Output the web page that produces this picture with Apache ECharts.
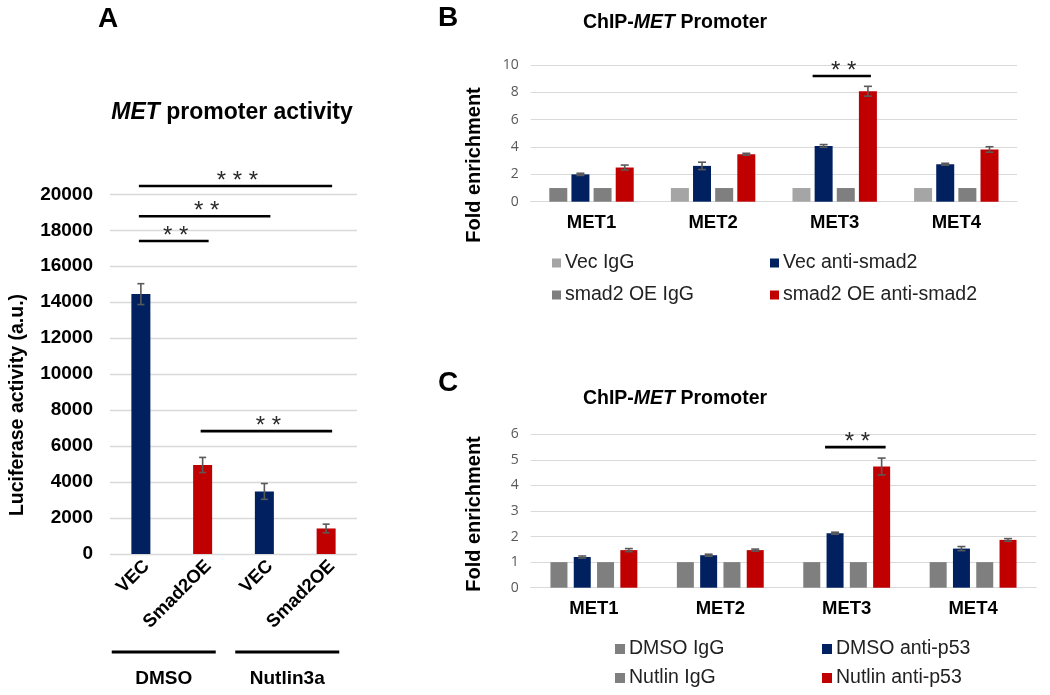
<!DOCTYPE html>
<html><head><meta charset="utf-8">
<script src="https://cdn.jsdelivr.net/npm/echarts@6/dist/echarts.min.js"></script>
<style>html,body{margin:0;padding:0;background:#fff}#c{width:1050px;height:695px}</style>
</head><body><div id="c"></div>
<script>
const FONT = "'Liberation Sans', Arial, sans-serif";
const TICKFONT = "'Open Sans', 'Noto Sans', sans-serif";

// ---------- Panel A data ----------
const aCategories = ['VEC', 'Smad2OE', 'VEC', 'Smad2OE'];
const aValues = [14450, 4950, 3480, 1420];
const aErrors = [580, 420, 440, 240];
const aSigFrom = [0, 0, 0, 1];
const aSigTo = [3, 2, 1, 3];
const aSigLevel = [20460, 18780, 17400, 6830];
const aSigLabel = ['* * *', '* *', '* *', '* *'];
const aGroupNames = ['DMSO', 'Nutlin3a'];
const aGroupFrom = [0, 2];
const aGroupTo = [1, 3];

// ---------- Panel B data ----------
const bCategories = ['MET1', 'MET2', 'MET3', 'MET4'];
const bNames = ['Vec IgG', 'Vec anti-smad2', 'smad2 OE IgG', 'smad2 OE anti-smad2'];
const bVecIgG = [1, 1, 1, 1];
const bVecAnti = [2.0, 2.62, 4.08, 2.74];
const bVecAntiErr = [0.08, 0.27, 0.1, 0.07];
const bOeIgG = [1, 1, 1, 1];
const bOeAnti = [2.5, 3.47, 8.08, 3.82];
const bOeAntiErr = [0.18, 0.07, 0.36, 0.2];
const bSigCat = [2];
const bSigLevel = [9.2];
const bSigLabel = ['* *'];

// ---------- Panel C data ----------
const cCategories = ['MET1', 'MET2', 'MET3', 'MET4'];
const cNames = ['DMSO IgG', 'DMSO anti-p53', 'Nutlin IgG', 'Nutlin anti-p53'];
const cDmsoIgG = [1, 1, 1, 1];
const cDmsoAnti = [1.2, 1.27, 2.13, 1.53];
const cDmsoAntiErr = [0.04, 0.04, 0.04, 0.08];
const cNutIgG = [1, 1, 1, 1];
const cNutAnti = [1.47, 1.47, 4.74, 1.87];
const cNutAntiErr = [0.06, 0.04, 0.33, 0.05];
const cSigCat = [2];
const cSigLevel = [5.5];
const cSigLabel = ['* *'];

const NAVY = '#002060', RED = '#c00000', GRAY = '#7f7f7f', LGRAY = '#a5a5a5';
const GRID = '#d9d9d9';

const B_W = 18, B_SP = 18 * 1.23;
const C_W = 17, C_SP = 17 * 1.37;

function errSeries(axis, values, errors, offset, capHalf) {
  return {
    type: 'custom', xAxisIndex: axis, yAxisIndex: axis, clip: false, silent: true, z: 6,
    data: values.map((v, i) => [i, v, errors[i]]),
    encode: { x: 0, y: 1 },
    renderItem(params, api) {
      const i = api.value(0), v = api.value(1), e = api.value(2);
      const t = api.coord([i, v + e]), b = api.coord([i, v - e]);
      const x = t[0] + offset;
      const st = { stroke: '#595959', lineWidth: 1.6 };
      return { type: 'group', children: [
        { type: 'line', shape: { x1: x, y1: t[1], x2: x, y2: b[1] }, style: st },
        { type: 'line', shape: { x1: x - capHalf, y1: t[1], x2: x + capHalf, y2: t[1] }, style: st },
        { type: 'line', shape: { x1: x - capHalf, y1: b[1], x2: x + capHalf, y2: b[1] }, style: st }
      ] };
    }
  };
}

function sigSeries(axis, data, labels, geom) {
  return {
    type: 'custom', xAxisIndex: axis, yAxisIndex: axis, clip: false, silent: true, z: 7,
    data: data,
    encode: { x: 0, y: 2 },
    renderItem(params, api) {
      const idx = params.dataIndex;
      const p1 = api.coord([api.value(0), api.value(2)]);
      const p2 = api.coord([api.value(1), api.value(2)]);
      const g = geom(p1[0], p2[0]);
      const y = p1[1];
      return { type: 'group', children: [
        { type: 'line', shape: { x1: g[0], y1: y, x2: g[1], y2: y }, style: { stroke: '#000', lineWidth: 2.6 } },
        { type: 'text', x: (g[0] + g[1]) / 2 + 2, y: y - 5,
          style: { text: labels[idx], fill: '#2a2a2a', font: '24px ' + FONT, align: 'center', verticalAlign: 'middle' } }
      ] };
    }
  };
}

const catAxis = (gi, data, extra) => Object.assign({
  type: 'category', gridIndex: gi, data: data,
  axisTick: { show: false },
  axisLine: { show: true, lineStyle: { color: GRID, width: 1 } },
  axisLabel: { color: '#000', fontWeight: 'bold', fontSize: 18.5, fontFamily: FONT, margin: 12 }
}, extra || {});

const valAxis = (gi, max, interval, extra) => Object.assign({
  type: 'value', gridIndex: gi, min: 0, max: max, interval: interval,
  axisLine: { show: false }, axisTick: { show: false },
  splitLine: { lineStyle: { color: GRID, width: 1 } },
  axisLabel: { color: '#595959', fontSize: 14, fontFamily: TICKFONT, margin: 12 }
}, extra || {});

const legendItem = (name, left, top, size) => ({
  data: [name], left: left, top: top, padding: 0, orient: 'horizontal',
  icon: 'rect', itemWidth: size, itemHeight: size, itemGap: 0, selectedMode: false,
  textStyle: { fontSize: 19.5, fontFamily: FONT, color: '#222', padding: [0, 0, 0, -1] }
});

const option = {
  animation: false,
  backgroundColor: '#fff',
  grid: [
    { left: 110, top: 194.3, width: 247, height: 359.7 },
    { left: 530.7, top: 65, width: 486.4, height: 136.7 },
    { left: 530.7, top: 434.3, width: 505.6, height: 153.4 }
  ],
  xAxis: [
    catAxis(0, aCategories, { axisLine: { show: false },
      axisLabel: { color: '#000', fontWeight: 'bold', fontSize: 18.5, fontFamily: FONT, rotate: 45, margin: 15,
        padding: [0, -8, 0, 0], interval: 0 } }),
    catAxis(1, bCategories),
    catAxis(2, cCategories)
  ],
  yAxis: [
    valAxis(0, 20000, 2000, { axisLabel: { color: '#000', fontWeight: 'bold', fontSize: 19, fontFamily: FONT, margin: 17,
        formatter: v => String(v) },
      splitLine: { lineStyle: { color: GRID, width: 1.3 } } }),
    valAxis(1, 10, 2),
    valAxis(2, 6, 1)
  ],
  legend: [
    legendItem(bNames[0], 552, 253, 9), legendItem(bNames[1], 770, 253, 9),
    legendItem(bNames[2], 552, 285, 9), legendItem(bNames[3], 770, 285, 9),
    legendItem(cNames[0], 615, 639, 10), legendItem(cNames[1], 822, 639, 10),
    legendItem(cNames[2], 615, 668, 10), legendItem(cNames[3], 822, 668, 10)
  ],
  series: [
    // Panel A
    { type: 'bar', xAxisIndex: 0, yAxisIndex: 0, barWidth: 19,
      data: aValues.map((v, i) => ({ value: v, itemStyle: { color: i % 2 === 0 ? NAVY : RED } })) },
    errSeries(0, aValues, aErrors, 0, 3.5),
    sigSeries(0, aSigFrom.map((f, i) => [f, aSigTo[i], aSigLevel[i]]), aSigLabel,
      (x1, x2) => [x1 - 2, x2 + 6]),
    { type: 'custom', xAxisIndex: 0, yAxisIndex: 0, clip: false, silent: true,
      data: aGroupFrom.map((f, i) => [f, aGroupTo[i], 0]),
      encode: { x: 0, y: 2 },
      renderItem(params, api) {
        const p1 = api.coord([api.value(0), 0]), p2 = api.coord([api.value(1), 0]);
        const mid = (p1[0] + p2[0]) / 2 - 8, y = p1[1] + 98;
        return { type: 'group', children: [
          { type: 'line', shape: { x1: mid - 52, y1: y, x2: mid + 52, y2: y }, style: { stroke: '#000', lineWidth: 3 } },
          { type: 'text', x: mid, y: y + 27, style: { text: aGroupNames[params.dataIndex], fill: '#000',
            font: 'bold 19px ' + FONT, align: 'center', verticalAlign: 'middle' } }
        ] };
      } },

    // Panel B
    { name: bNames[0], type: 'bar', xAxisIndex: 1, yAxisIndex: 1, barWidth: B_W, barGap: '23%', color: LGRAY,
      data: bVecIgG.map((v, i) => ({ value: v, itemStyle: { color: i === 0 ? GRAY : LGRAY } })) },
    { name: bNames[1], type: 'bar', xAxisIndex: 1, yAxisIndex: 1, barWidth: B_W, barGap: '23%', color: NAVY, data: bVecAnti },
    { name: bNames[2], type: 'bar', xAxisIndex: 1, yAxisIndex: 1, barWidth: B_W, barGap: '23%', color: GRAY, data: bOeIgG },
    { name: bNames[3], type: 'bar', xAxisIndex: 1, yAxisIndex: 1, barWidth: B_W, barGap: '23%', color: RED, data: bOeAnti },
    errSeries(1, bVecAnti, bVecAntiErr, -0.5 * B_SP, 4),
    errSeries(1, bOeAnti, bOeAntiErr, 1.5 * B_SP, 4),
    sigSeries(1, bSigCat.map((c, i) => [c, c, bSigLevel[i]]), bSigLabel,
      (x1, x2) => [x1 - 0.5 * B_SP - 11, x2 + 1.5 * B_SP + 3]),

    // Panel C
    { name: cNames[0], type: 'bar', xAxisIndex: 2, yAxisIndex: 2, barWidth: C_W, barGap: '37%', color: GRAY, data: cDmsoIgG },
    { name: cNames[1], type: 'bar', xAxisIndex: 2, yAxisIndex: 2, barWidth: C_W, barGap: '37%', color: NAVY, data: cDmsoAnti },
    { name: cNames[2], type: 'bar', xAxisIndex: 2, yAxisIndex: 2, barWidth: C_W, barGap: '37%', color: GRAY, data: cNutIgG },
    { name: cNames[3], type: 'bar', xAxisIndex: 2, yAxisIndex: 2, barWidth: C_W, barGap: '37%', color: RED, data: cNutAnti },
    errSeries(2, cDmsoAnti, cDmsoAntiErr, -0.5 * C_SP, 4),
    errSeries(2, cNutAnti, cNutAntiErr, 1.5 * C_SP, 4),
    sigSeries(2, cSigCat.map((c, i) => [c, c, cSigLevel[i]]), cSigLabel,
      (x1, x2) => [x1 - 0.5 * C_SP - 10, x2 + 1.5 * C_SP + 4])
  ],
  graphic: [
    { type: 'text', x: 108, y: 19, style: { text: 'A', font: 'bold 28px ' + FONT, fill: '#000', align: 'center', verticalAlign: 'middle' } },
    { type: 'text', x: 448, y: 18, style: { text: 'B', font: 'bold 28px ' + FONT, fill: '#000', align: 'center', verticalAlign: 'middle' } },
    { type: 'text', x: 448, y: 383, style: { text: 'C', font: 'bold 28px ' + FONT, fill: '#000', align: 'center', verticalAlign: 'middle' } },
    { type: 'text', x: 232, y: 113, style: { text: '{i|MET} promoter activity', font: 'bold 23px ' + FONT, fill: '#000',
      align: 'center', verticalAlign: 'middle', rich: { i: { fontStyle: 'italic', fontWeight: 'bold', fontSize: 23, fontFamily: FONT } } } },
    { type: 'text', x: 675, y: 23, style: { text: 'ChIP-{i|MET} Promoter', font: 'bold 19.5px ' + FONT, fill: '#000',
      align: 'center', verticalAlign: 'middle', rich: { i: { fontStyle: 'italic', fontWeight: 'bold', fontSize: 19.5, fontFamily: FONT } } } },
    { type: 'text', x: 675, y: 399, style: { text: 'ChIP-{i|MET} Promoter', font: 'bold 19.5px ' + FONT, fill: '#000',
      align: 'center', verticalAlign: 'middle', rich: { i: { fontStyle: 'italic', fontWeight: 'bold', fontSize: 19.5, fontFamily: FONT } } } },
    { type: 'text', x: 18, y: 405, rotation: Math.PI / 2, style: { text: 'Luciferase activity (a.u.)', font: 'bold 19.5px ' + FONT, fill: '#000', align: 'center', verticalAlign: 'middle' } },
    { type: 'text', x: 474.5, y: 165, rotation: Math.PI / 2, style: { text: 'Fold enrichment', font: 'bold 20px ' + FONT, fill: '#000', align: 'center', verticalAlign: 'middle' } },
    { type: 'text', x: 474.5, y: 514, rotation: Math.PI / 2, style: { text: 'Fold enrichment', font: 'bold 20px ' + FONT, fill: '#000', align: 'center', verticalAlign: 'middle' } }
  ]
};

const chart = echarts.init(document.getElementById('c'), null, { renderer: 'canvas' });
chart.setOption(option);
</script>
</body></html>
